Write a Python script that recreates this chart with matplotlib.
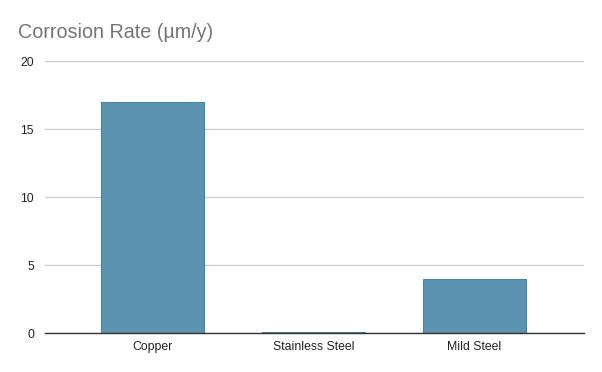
import matplotlib.pyplot as plt

materials = ["Copper", "Stainless Steel", "Mild Steel"]
rates = [17.0, 0.08, 4.0]
y_ticks = [0, 5, 10, 15, 20]

plt.rcParams['font.family'] = ['Liberation Sans', 'DejaVu Sans']

fig = plt.figure(figsize=(6.02, 3.72), dpi=100)
ax = fig.add_axes([0.0748, 0.1048, 0.8952, 0.7312])

ax.bar(range(len(materials)), rates, width=0.64, color='#5b93b1',
       edgecolor='#4a84a3', linewidth=0.8, zorder=3)

ax.set_xlim(-0.67, 2.68)
ax.set_ylim(0, 20)
ax.set_yticks(y_ticks)
ax.set_xticks(range(len(materials)))
ax.set_xticklabels(materials)
ax.tick_params(axis='both', length=0, labelsize=8.8, colors='#222222')
ax.tick_params(axis='y', pad=8)
ax.tick_params(axis='x', pad=6)

ax.grid(axis='y', color='#cccccc', linewidth=0.9, zorder=0)
for side in ['top', 'right', 'left']:
    ax.spines[side].set_visible(False)
ax.spines['bottom'].set_color('#333333')
ax.spines['bottom'].set_linewidth(1.0)
ax.spines['bottom'].set_zorder(4)

fig.text(0.03, 0.912, "Corrosion Rate (µm/y)", fontsize=14.2, color='#757575',
         ha='left', va='center')

fig.savefig("out.png", dpi=100)
